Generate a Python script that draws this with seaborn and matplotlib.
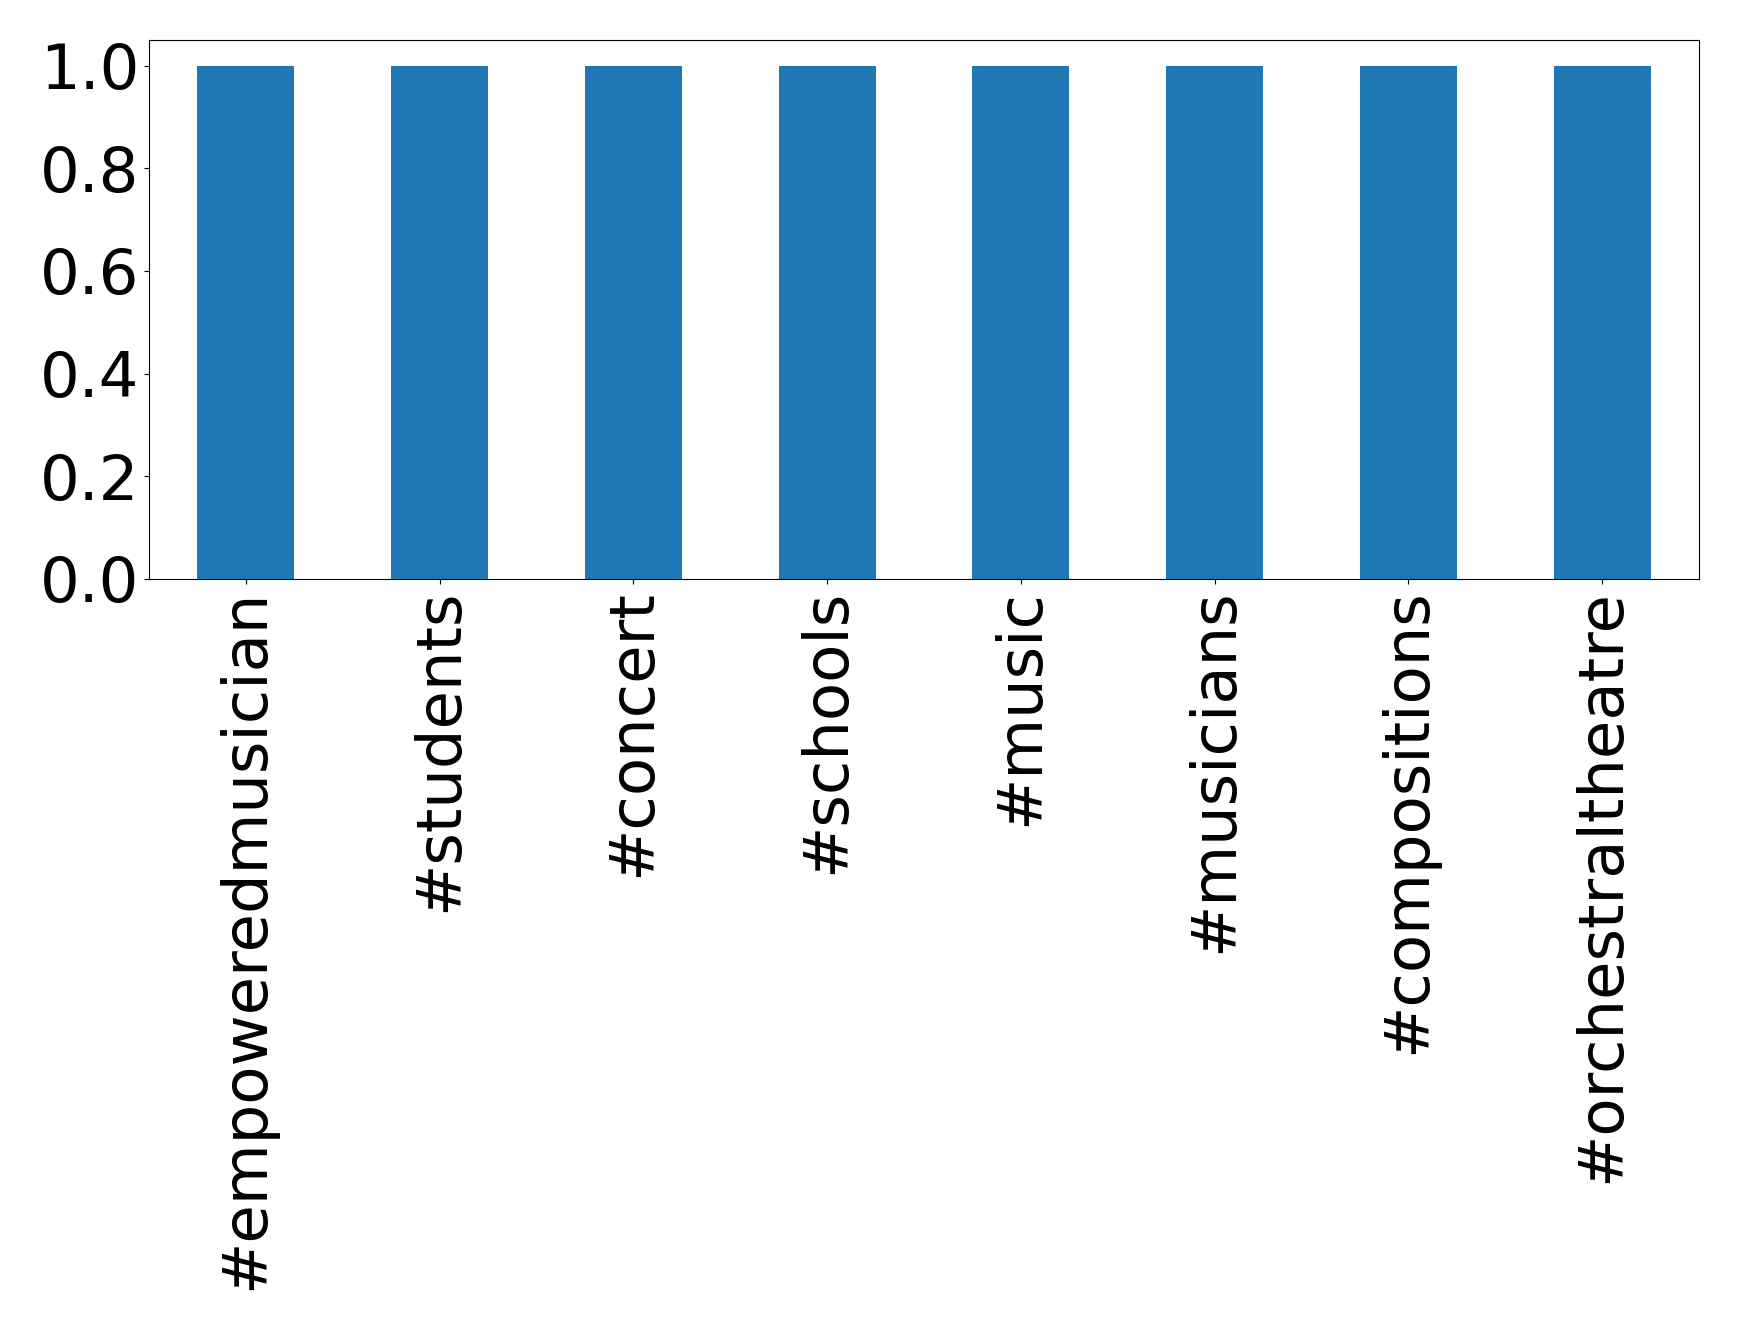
import matplotlib
matplotlib.use("Agg")
import matplotlib.pyplot as plt
import seaborn as sns
import pandas as pd
import numpy as np

# hashtag counts
tags = ["#empoweredmusician", "#students", "#concert", "#schools",
        "#music", "#musicians", "#compositions", "#orchestraltheatre"]
counts = [1, 1, 1, 1, 1, 1, 1, 1]
yticks = [0.0, 0.2, 0.4, 0.6, 0.8, 1.0]

df = pd.DataFrame({"tag": tags, "count": counts})

fig = plt.figure(figsize=(17.39, 13.30), dpi=100)
ax = fig.add_axes([0.0857, 0.5647, 0.977 - 0.0857, 0.970 - 0.5647])

sns.barplot(data=df, x="tag", y="count", color="#1f77b4", saturation=1,
            width=0.5, ax=ax)

ax.set_xlim(-0.5, len(tags) - 0.5)
ax.set_ylim(0, 1.05)
ax.set_yticks(yticks)
ax.set_xlabel("")
ax.set_ylabel("")
ax.tick_params(axis="both", labelsize=45)
plt.setp(ax.get_xticklabels(), rotation=90)

fig.savefig("out.png", dpi=100)
